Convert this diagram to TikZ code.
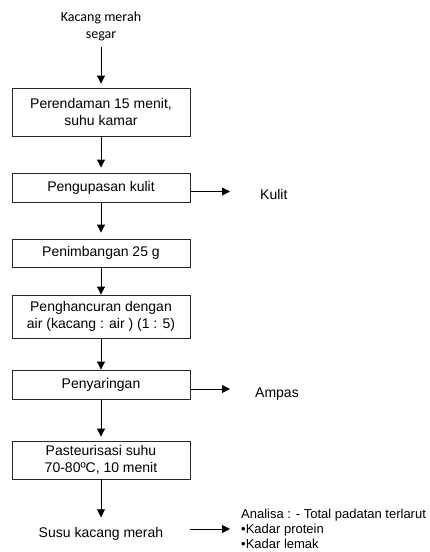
\documentclass[tikz,border=0pt]{standalone}
\usepackage{fontspec}
\setmainfont{Liberation Sans}
\newfontfamily\calib{Carlito}
\usetikzlibrary{arrows.meta}
\begin{document}
\begin{tikzpicture}[x=1pt,y=-1pt,
  box/.style={draw=black!85, line width=0.9pt, minimum width=178pt, inner sep=0pt,
    align=center, font=\fontsize{14}{16.5}\selectfont},
  lbl/.style={inner sep=0pt, font=\fontsize{14}{16.5}\selectfont},
  arr/.style={line width=0.9pt, -{Triangle[length=8pt,width=8pt]}}]
\useasboundingbox (0,0) rectangle (429,552);
\node[inner sep=0pt, align=center, font=\calib\fontsize{14}{17}\selectfont] (src) at (101,26) {Kacang merah\\segar};
\node[box, minimum height=48pt] (b1) at (101,112) {Perendaman 15 menit,\\suhu kamar};
\node[box, minimum height=29pt] (b2) at (101,187.5) {Pengupasan kulit};
\node[box, minimum height=28pt] (b3) at (101,253) {Penimbangan 25 g};
\node[box, minimum height=43pt] (b4) at (101,316.5) {Penghancuran dengan\\air (kacang : air ) (1 : 5)};
\node[box, minimum height=29pt] (b5) at (101,384.5) {Penyaringan};
\node[box, minimum height=38pt] (b6) at (101,460) {Pasteurisasi suhu\\70-80ºC, 10 menit};
\node[lbl] (susu) at (101,534) {Susu kacang merah};
\node[lbl, anchor=base west] (kulit) at (260,199) {Kulit};
\node[lbl, anchor=base west] (ampas) at (255,397) {Ampas};
\node[inner sep=0pt, anchor=north west, align=left, font=\fontsize{13}{15}\selectfont] (analisa) at (241,509)
  {Analisa : - Total padatan terlarut\\•Kadar protein\\•Kadar lemak};
\coordinate (kend) at (230,191.5);
\coordinate (aend) at (230,389);
\draw[arr, shorten <=6pt, shorten >=4pt] (src) -- (b1);
\draw[arr, shorten >=5pt] (b1) -- (b2);
\draw[arr, shorten >=6pt] (b2) -- (b3);
\draw[arr] (b3) -- (b4);
\draw[arr] (b4) -- (b5);
\draw[arr, shorten >=4pt] (b5) -- (b6);
\draw[arr, shorten >=10pt] (b6) -- (susu);
\draw[arr] (b2.east |- kend) -- (kend);
\draw[arr] (b5.east |- aend) -- (aend);
\draw[arr] (analisa.west -| b6.east) -- ([xshift=-11pt]analisa.west);
\end{tikzpicture}
\end{document}
